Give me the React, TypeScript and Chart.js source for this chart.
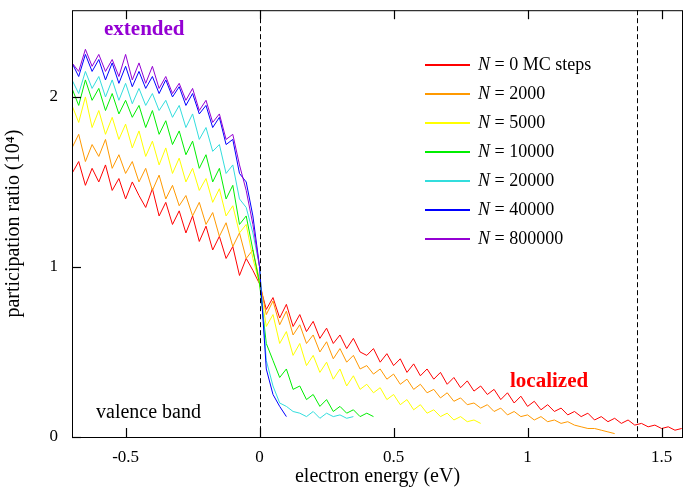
import { Chart, registerables } from "chart.js";
import { useEffect, useRef } from "react";

Chart.register(...registerables);

// energy grid in eV (step 0.025)
const energies = [
  -0.7, -0.675, -0.65, -0.625, -0.6, -0.575, -0.55, -0.525, -0.5, -0.475, -0.45, -0.425, -0.4, -0.375,
  -0.35, -0.325, -0.3, -0.275, -0.25, -0.225, -0.2, -0.175, -0.15, -0.125, -0.1, -0.075, -0.05, -0.025,
  0, 0.025, 0.05, 0.075, 0.1, 0.125, 0.15, 0.175, 0.2, 0.225, 0.25, 0.275, 0.3, 0.325, 0.35, 0.375,
  0.4, 0.425, 0.45, 0.475, 0.5, 0.525, 0.55, 0.575, 0.6, 0.625, 0.65, 0.675, 0.7, 0.725, 0.75, 0.775,
  0.8, 0.825, 0.85, 0.875, 0.9, 0.925, 0.95, 0.975, 1, 1.025, 1.05, 1.075, 1.1, 1.125, 1.15, 1.175,
  1.2, 1.225, 1.25, 1.275, 1.3, 1.325, 1.35, 1.375, 1.4, 1.425, 1.45, 1.475, 1.5, 1.525, 1.55, 1.575,
];

const n0 = [
  1.55, 1.62, 1.48, 1.58, 1.5, 1.6, 1.45, 1.52, 1.4, 1.5, 1.42, 1.35, 1.46, 1.3, 1.38, 1.25, 1.33, 1.2, 1.3, 1.15, 1.24, 1.1, 1.18, 1.05, 1.12, 0.95, 1.05, 0.98,
  0.9, 0.75, 0.82, 0.7, 0.78, 0.65, 0.72, 0.62, 0.68, 0.58, 0.64, 0.55, 0.6, 0.52, 0.58, 0.5,
  0.48, 0.52, 0.44, 0.49, 0.42, 0.46, 0.38, 0.43, 0.36, 0.4, 0.34, 0.38, 0.31, 0.35, 0.29, 0.33,
  0.27, 0.3, 0.25, 0.28, 0.22, 0.26, 0.2, 0.24, 0.18, 0.21, 0.16, 0.19, 0.15, 0.17, 0.13, 0.15,
  0.12, 0.14, 0.1, 0.12, 0.09, 0.11, 0.08, 0.1, 0.07, 0.08, 0.06, 0.07, 0.05, 0.06, 0.04, 0.05,
];
const n2000 = [
  1.7, 1.78, 1.62, 1.72, 1.65, 1.75, 1.58, 1.66, 1.55, 1.62, 1.5, 1.58, 1.45, 1.54, 1.4, 1.48, 1.36, 1.42, 1.3, 1.38, 1.25, 1.32, 1.18, 1.26, 1.12, 1.2, 1.05, 1.1,
  0.92, 0.72, 0.8, 0.66, 0.74, 0.6, 0.66, 0.55, 0.6, 0.5, 0.56, 0.46, 0.52, 0.44, 0.48, 0.4,
  0.42, 0.37, 0.4, 0.34, 0.37, 0.31, 0.34, 0.28, 0.31, 0.26, 0.28, 0.23, 0.26, 0.21, 0.23, 0.19,
  0.2, 0.17, 0.19, 0.15, 0.17, 0.13, 0.15, 0.12, 0.13, 0.1, 0.12, 0.09, 0.1, 0.08, 0.09, 0.07,
  0.06, 0.05, 0.05, 0.04, 0.03, 0.02,
];
const n5000 = [
  1.95, 1.85, 2.0, 1.82, 1.92, 1.78, 1.88, 1.75, 1.84, 1.7, 1.8, 1.65, 1.74, 1.6, 1.7, 1.55, 1.64, 1.5, 1.58, 1.45, 1.52, 1.38, 1.46, 1.3, 1.36, 1.2, 1.25, 1.05,
  0.9, 0.65, 0.72, 0.55, 0.62, 0.48, 0.55, 0.42, 0.48, 0.38, 0.44, 0.34, 0.4, 0.3, 0.36, 0.28,
  0.31, 0.26, 0.29, 0.22, 0.25, 0.19, 0.22, 0.16, 0.19, 0.14, 0.16, 0.12, 0.14, 0.1, 0.12, 0.09, 0.1, 0.08,
];
const n10000 = [
  2.05, 1.95, 2.1, 1.98, 2.05, 1.92, 2.02, 1.9, 1.98, 1.88, 1.95, 1.82, 1.92, 1.78, 1.86, 1.72, 1.8, 1.66, 1.74, 1.58, 1.66, 1.5, 1.58, 1.4, 1.48, 1.25, 1.3, 1.1,
  0.9, 0.55, 0.45, 0.35, 0.4, 0.28, 0.3, 0.22, 0.25, 0.18, 0.22, 0.15, 0.18, 0.14, 0.16, 0.12, 0.14, 0.12,
];
const n20000 = [
  2.1, 2.02, 2.15, 2.05, 2.12, 2.0, 2.1, 1.98, 2.08, 1.96, 2.05, 1.95, 2.02, 1.92, 1.98, 1.88, 1.95, 1.82, 1.9, 1.75, 1.82, 1.68, 1.72, 1.55, 1.6, 1.4, 1.35, 1.2,
  1.0, 0.45, 0.3, 0.2, 0.18, 0.15, 0.14, 0.12, 0.15, 0.11, 0.14, 0.12, 0.13, 0.11, 0.12,
];
const n40000 = [
  2.2, 2.12, 2.25, 2.15, 2.22, 2.1, 2.2, 2.08, 2.18, 2.06, 2.15, 2.05, 2.12, 2.02, 2.1, 2.0, 2.06, 1.95, 2.02, 1.9, 1.95, 1.82, 1.88, 1.72, 1.75, 1.55, 1.5, 1.3,
  1.0, 0.4, 0.25, 0.18, 0.12,
];
const n800000 = [
  2.2, 2.15, 2.28, 2.18, 2.25, 2.15, 2.22, 2.12, 2.25, 2.1, 2.2, 2.08, 2.18, 2.05, 2.12, 2.02, 2.08, 1.98, 2.05, 1.92, 1.98, 1.85, 1.9, 1.75, 1.78, 1.6, 1.45, 1.25,
  1.0,
];

const seriesLabels = ["0 MC steps", "2000", "5000", "10000", "20000", "40000", "800000"];
const seriesValues = [n0, n2000, n5000, n10000, n20000, n40000, n800000];
const seriesColors = ["#ff0000", "#ff9900", "#ffff00", "#00ee00", "#33dddd", "#0000ff", "#9400d3"];

const xTicks = [-0.5, 0, 0.5, 1, 1.5];
const yTicks = [0, 1, 2];
const dashedAt = [0, 1.41];

const FONT = "'Liberation Serif', 'DejaVu Serif', serif";

const frame = {
  id: "frame",
  afterDraw(chart: any) {
    const { ctx, chartArea: a, scales } = chart;
    ctx.save();
    ctx.strokeStyle = "#000";
    ctx.lineWidth = 1;
    ctx.setLineDash([5, 3]);
    dashedAt.forEach((v) => {
      const x = Math.round(scales.x.getPixelForValue(v)) + 0.5;
      ctx.beginPath();
      ctx.moveTo(x, a.top);
      ctx.lineTo(x, a.bottom);
      ctx.stroke();
    });
    ctx.setLineDash([]);
    ctx.strokeRect(a.left + 0.5, a.top + 0.5, a.right - a.left - 1, a.bottom - a.top);
    // inward tick marks
    ctx.lineWidth = 1.2;
    xTicks.forEach((v) => {
      const x = Math.round(scales.x.getPixelForValue(v)) + 0.5;
      ctx.beginPath();
      ctx.moveTo(x, a.bottom);
      ctx.lineTo(x, a.bottom - 9);
      ctx.stroke();
      ctx.beginPath();
      ctx.moveTo(x, a.top);
      ctx.lineTo(x, a.top + 9);
      ctx.stroke();
    });
    yTicks.forEach((v) => {
      const y = Math.round(scales.y.getPixelForValue(v)) + 0.5;
      ctx.beginPath();
      ctx.moveTo(a.left, y);
      ctx.lineTo(a.left + 9, y);
      ctx.stroke();
    });
    ctx.restore();
  },
};

const App = () => {
  const canvasRef = useRef<HTMLCanvasElement | null>(null);
  const chartRef = useRef<Chart | null>(null);

  useEffect(() => {
    if (!canvasRef.current) return;
    if (chartRef.current) chartRef.current.destroy();

    chartRef.current = new Chart(canvasRef.current, {
      type: "line",
      data: {
        datasets: seriesValues.map((vals, k) => ({
          label: seriesLabels[k],
          data: vals.map((y, i) => ({ x: energies[i], y })),
          borderColor: seriesColors[k],
          borderWidth: 1,
          pointRadius: 0,
          tension: 0,
          order: 10 - k,
        })),
      },
      options: {
        animation: false,
        responsive: true,
        maintainAspectRatio: false,
        layout: { padding: 0 },
        plugins: { legend: { display: false }, tooltip: { enabled: false } },
        scales: {
          x: {
            type: "linear",
            min: -0.7,
            max: 1.58,
            grid: { display: false },
            border: { display: false },
            afterBuildTicks: (s: any) => {
              s.ticks = xTicks.map((v) => ({ value: v }));
            },
            afterFit: (s: any) => {
              s.height = 52;
            },
            ticks: { color: "#000", font: { family: FONT, size: 17 }, padding: 2, callback: (v: any) => String(v) },
            title: { display: true, text: "electron energy (eV)", color: "#000", font: { family: FONT, size: 20 }, padding: 0 },
          },
          y: {
            min: 0,
            max: 2.51,
            grid: { display: false },
            border: { display: false },
            afterBuildTicks: (s: any) => {
              s.ticks = yTicks.map((v) => ({ value: v }));
            },
            afterFit: (s: any) => {
              s.width = 72;
            },
            ticks: { color: "#000", font: { family: FONT, size: 17 }, padding: 6 },
            title: { display: true, text: "participation ratio (10⁴)", color: "#000", font: { family: FONT, size: 20 }, padding: 2 },
          },
        },
      },
      plugins: [frame],
    });

    return () => {
      if (chartRef.current) chartRef.current.destroy();
    };
  }, []);

  return (
    <div style={{ position: "absolute", left: 0, top: 0, width: 683, height: 489, background: "#fff", fontFamily: FONT, overflow: "hidden" }}>
      <div style={{ position: "absolute", left: 0, top: -6, width: 683, height: 495 }}>
        <canvas ref={canvasRef}></canvas>
      </div>
      <div style={{ position: "absolute", left: 104, top: 16, color: "#9400d3", fontWeight: "bold", fontSize: 21 }}>extended</div>
      <div style={{ position: "absolute", left: 510, top: 368, color: "#ff0000", fontWeight: "bold", fontSize: 21 }}>localized</div>
      <div style={{ position: "absolute", left: 96, top: 400, color: "#000", fontSize: 20 }}>valence band</div>
      <div style={{ position: "absolute", left: 425, top: 50 }}>
        {seriesLabels.map((l, k) => (
          <div key={l} style={{ display: "flex", alignItems: "center", height: 29, fontSize: 18 }}>
            <div style={{ width: 45, height: 2, background: seriesColors[k], marginRight: 8 }}></div>
            <span>
              <i>N</i> = {l}
            </span>
          </div>
        ))}
      </div>
    </div>
  );
};

export default App;
